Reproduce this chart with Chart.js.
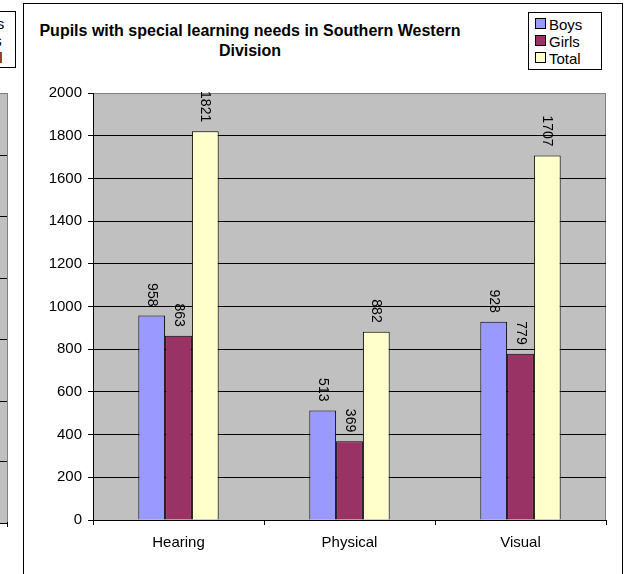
<!DOCTYPE html>
<html>
<head>
<meta charset="utf-8">
<title>Pupils with special learning needs</title>
<script src="https://cdn.jsdelivr.net/npm/chart.js@4.4.1/dist/chart.umd.min.js"></script>
<style>
  body { margin: 0; background: #fff; font-family: "Liberation Sans", Arial, sans-serif; overflow: hidden; }
  #wrap { position: relative; width: 625px; height: 574px; }
  /* neighbouring chart, cut off at the left edge */
  #prev-legend { position: absolute; left: -60px; top: 11px; width: 76px; height: 57px; border: 1px solid #000; overflow: hidden;
                 font-size: 15px; line-height: 17px; text-align: left; padding-left: 30px; box-sizing: border-box; padding-top: 3px; }
  #prev-plot { position: absolute; left: -20px; top: 93px; width: 27px; height: 429px; background: #c0c0c0;
               border-right: 1px solid #808080; border-top: 1px solid #808080; border-bottom: 1px solid #000; }
  #prev-plot div { position: absolute; left: 0; right: 0; height: 1px; background: #000; }
  #prev-tick { position: absolute; left: 7px; top: 522px; width: 1px; height: 5px; background: #000; }
  #frame { position: absolute; left: 23px; top: 3px; width: 598px; height: 600px; border: 1px solid #000; border-bottom: none; }
  #title { position: absolute; left: 20px; top: 21px; width: 460px; text-align: center; font-weight: bold;
           font-size: 16px; line-height: 20px; color: #000; }
  #legend { position: absolute; left: 528px; top: 12px; width: 74px; height: 58px; border: 1px solid #000; box-sizing: border-box;
            font-size: 15px; line-height: 17px; padding: 3px 0 0 6px; }
  #legend .sw { display: inline-block; width: 9px; height: 9px; border: 1px solid #000; margin-right: 3px; vertical-align: 1px; }
  canvas { position: absolute; left: 0; top: 0; }
</style>
</head>
<body>
<div id="wrap">
  <div id="prev-legend">Boys<br>Girls<br>Total</div>
  <div id="prev-plot">
    <div style="top:61px"></div><div style="top:122px"></div><div style="top:184px"></div>
    <div style="top:245px"></div><div style="top:307px"></div><div style="top:367px"></div>
  </div>
  <div id="prev-tick"></div>
  <div id="frame"></div>
  <div id="title">Pupils with special learning needs in Southern Western Division</div>
  <div id="legend"></div>
  <canvas id="chart" width="625" height="574"></canvas>
</div>
<script>
// data
const categories = ['Hearing', 'Physical', 'Visual'];
const seriesNames = ['Boys', 'Girls', 'Total'];
const boys = [958, 513, 928];
const girls = [863, 369, 779];
const total = [1821, 882, 1707];
const seriesColors = ['#9999ff', '#993366', '#ffffcc'];
const yMax = 2000;
const yStep = 200;

const FONT = '"Liberation Sans", Arial, sans-serif';

// grey plot area with a thin grey frame, like the spreadsheet chart
const plotBackground = {
  id: 'plotBackground',
  beforeDraw(chart) {
    const { ctx, chartArea: a } = chart;
    ctx.save();
    ctx.fillStyle = '#c0c0c0';
    ctx.fillRect(a.left, a.top, a.right - a.left, a.bottom - a.top);
    ctx.strokeStyle = '#808080';
    ctx.lineWidth = 1;
    ctx.strokeRect(a.left + 0.5, a.top + 0.5, a.right - a.left - 1, a.bottom - a.top);
    ctx.restore();
  }
};

// vertical value labels above each bar
const barValues = {
  id: 'barValues',
  afterDatasetsDraw(chart) {
    const ctx = chart.ctx;
    ctx.save();
    ctx.font = '14px ' + FONT;
    ctx.fillStyle = '#000';
    chart.data.datasets.forEach((ds, i) => {
      chart.getDatasetMeta(i).data.forEach((bar, j) => {
        ctx.save();
        ctx.translate(bar.x, bar.y - 9);
        ctx.rotate(Math.PI / 2);
        ctx.textAlign = 'right';
        ctx.textBaseline = 'middle';
        ctx.fillText(String(ds.data[j]), 0, 0);
        ctx.restore();
      });
    });
    ctx.restore();
  }
};

const datasets = [boys, girls, total].map((values, i) => ({
  label: seriesNames[i],
  data: values,
  backgroundColor: seriesColors[i],
  borderColor: '#000',
  borderWidth: 1,
  categoryPercentage: 0.47,
  barPercentage: 1.0
}));

// legend box built from the series
const legendEl = document.getElementById('legend');
seriesNames.forEach((name, i) => {
  const row = document.createElement('div');
  row.innerHTML = `<span class="sw" style="background:${seriesColors[i]}"></span>${name}`;
  legendEl.appendChild(row);
});

new Chart(document.getElementById('chart'), {
  type: 'bar',
  data: { labels: categories, datasets },
  options: {
    responsive: false,
    animation: false,
    layout: { padding: { left: 0, right: 19, top: 93, bottom: 0 } },
    plugins: {
      legend: { display: false },
      title: { display: false },
      tooltip: { enabled: false }
    },
    scales: {
      x: {
        offset: true,
        grid: { display: true, drawOnChartArea: false, drawTicks: true, tickLength: 5, color: '#000' },
        border: { color: '#000', width: 1 },
        ticks: { color: '#000', font: { family: FONT, size: 15 }, padding: 9 },
        afterFit(scale) { scale.height = 54; }
      },
      y: {
        min: 0,
        max: yMax,
        ticks: {
          stepSize: yStep,
          color: '#000',
          font: { family: FONT, size: 15 },
          padding: 6,
          callback: v => String(v)
        },
        grid: {
          color: ctx => (ctx.tick && ctx.tick.value === yMax ? '#808080' : '#000'),
          tickColor: '#000',
          tickLength: 5,
          lineWidth: 1
        },
        border: { color: '#000', width: 1 },
        afterFit(scale) { scale.width = 93; }
      }
    }
  },
  plugins: [plotBackground, barValues]
});
</script>
</body>
</html>
